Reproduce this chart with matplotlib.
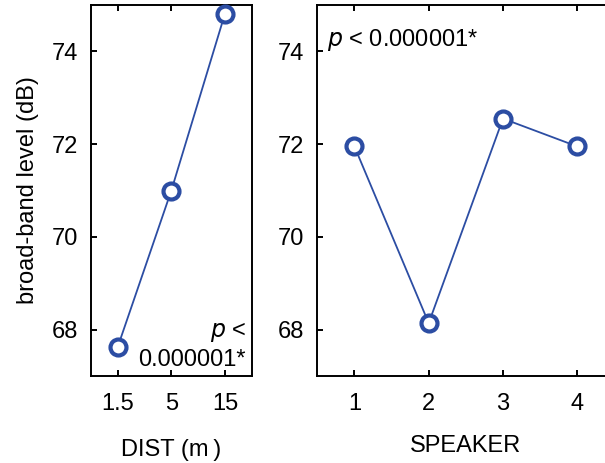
import matplotlib
matplotlib.use("Agg")
import matplotlib.pyplot as plt

plt.rcParams['font.family'] = ['Liberation Sans', 'DejaVu Sans']

dist_labels = ["1.5", "5", "15"]
dist_values = [67.63, 71.0, 74.81]
speaker_labels = ["1", "2", "3", "4"]
speaker_values = [71.95, 68.14, 72.55, 71.95]
y_ticks = [68, 70, 72, 74]

blue = '#2c4da3'
fs = 17

fig = plt.figure(figsize=(6.05, 4.63), dpi=100)
axL = fig.add_axes([91/605, 1-376/463, (251.7-91)/605, (376-5)/463])
axR = fig.add_axes([317.3/605, 1-376/463, (614.4-317.3)/605, (376-5)/463])

def style(ax):
    for s in ax.spines.values():
        s.set_linewidth(1.4)
    ax.set_ylim(67, 75)
    ax.set_yticks(y_ticks)
    ax.tick_params(axis='y', direction='in', length=4, width=1.4, labelsize=fs, pad=9.5, right=False)
    ax.tick_params(axis='x', direction='in', length=4, width=1.4, labelsize=fs, pad=12.5, top=True)

xL = list(range(len(dist_labels)))
axL.plot(xL, dist_values, color=blue, lw=1.3, marker='o', ms=11.5, mfc='white', mec=blue, mew=3.0, zorder=3, clip_on=False)
axL.set_xlim(-0.5, 2.5)
axL.set_xticks(xL)
axL.set_xticklabels(dist_labels)
style(axL)
axL.set_xlabel("DIST (m\u2009)", fontsize=fs, labelpad=17)
axL.set_ylabel("broad-band level (dB)", fontsize=fs, labelpad=9)
axL.text(0.965, 0.119, r"$\it{p}$ <", transform=axL.transAxes, ha='right', va='center', fontsize=fs)
axL.text(0.965, 0.043, "0.000001*", transform=axL.transAxes, ha='right', va='center', fontsize=fs)

xR = [int(s) for s in speaker_labels]
axR.plot(xR, speaker_values, color=blue, lw=1.3, marker='o', ms=11.5, mfc='white', mec=blue, mew=3.0, zorder=3, clip_on=False)
axR.set_xlim(0.5, 4.5)
axR.set_xticks(xR)
axR.set_xticklabels(speaker_labels)
style(axR)
axR.set_xlabel("SPEAKER", fontsize=fs, labelpad=14)
axR.text(0.032, 0.906, r"$\it{p}$ < 0.000001*", transform=axR.transAxes, ha='left', va='center', fontsize=fs)

fig.savefig("out.png", dpi=100)
